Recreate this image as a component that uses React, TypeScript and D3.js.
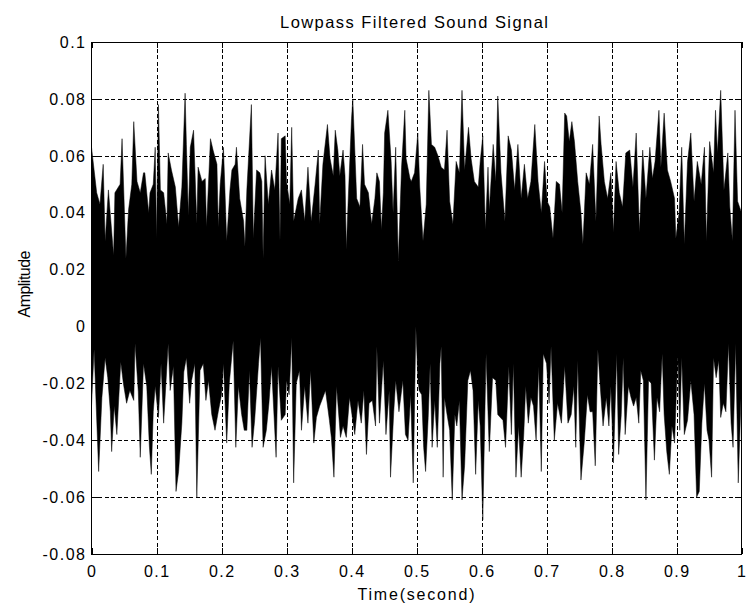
import React from 'react';
import * as d3 from 'd3';

const W = 749;
const H = 609;

const TITLE = 'Lowpass Filtered Sound Signal';
const X_LABEL = 'Time(second)';
const Y_LABEL = 'Amplitude';

const X_TICKS = [0, 0.1, 0.2, 0.3, 0.4, 0.5, 0.6, 0.7, 0.8, 0.9, 1];
const X_TICK_LABELS = ['0', '0.1', '0.2', '0.3', '0.4', '0.5', '0.6', '0.7', '0.8', '0.9', '1'];
const Y_TICKS = [-0.08, -0.06, -0.04, -0.02, 0, 0.02, 0.04, 0.06, 0.08, 0.1];
const Y_TICK_LABELS = ['-0.08', '-0.06', '-0.04', '-0.02', '0', '0.02', '0.04', '0.06', '0.08', '0.1'];

// Upper envelope of the filtered signal (time in ms, amplitude in thousandths)
const UPPER_TIME_MS = [
  0, 8, 13, 18, 21, 26, 34, 36, 44, 47, 50, 53, 57, 62, 65, 70, 75, 80, 82, 88,
  90, 95, 98, 100, 103, 106, 111, 116, 118, 123, 129, 134, 139, 144, 146, 149, 152, 157, 162, 164,
  170, 175, 177, 183, 187, 193, 195, 198, 203, 208, 213, 216, 221, 223, 228, 234, 236, 239, 246, 249,
  254, 259, 262, 264, 267, 272, 277, 282, 287, 290, 292, 298, 300, 305, 308, 311, 318, 323, 328, 333,
  338, 344, 349, 351, 356, 363, 367, 372, 375, 379, 382, 387, 390, 392, 395, 400, 402, 408, 413, 417,
  420, 426, 431, 436, 439, 443, 446, 449, 451, 456, 461, 464, 468, 472, 477, 482, 484, 490, 492, 497, 502,
  505, 510, 515, 519, 523, 528, 533, 538, 543, 547, 551, 556, 561, 566, 570, 574, 580, 584, 589, 595,
  598, 602, 606, 610, 612, 618, 622, 625, 630, 636, 641, 646, 651, 656, 661, 666, 671, 676, 682, 687,
  692, 697, 701, 705, 710, 715, 720, 724, 728, 731, 735, 739, 743, 748, 753, 756, 761, 766, 771, 776,
  781, 784, 789, 794, 799, 803, 807, 812, 817, 822, 828, 833, 838, 843, 848, 853, 859, 863, 867, 873,
  876, 881, 886, 891, 897, 899, 904, 908, 912, 917, 922, 927, 932, 938, 943, 946, 951, 957, 960, 963,
  968, 973, 979, 982, 986, 990, 994, 1000,
];
const UPPER_MILLI = [
  63, 47, 43, 57, 30, 48, 25, 47, 50, 66, 45, 24, 41, 50, 72, 51, 47, 54, 54, 40,
  47, 50, 63, 31, 78, 48, 47, 36, 61, 55, 49, 35, 49, 82, 64, 39, 63, 69, 36, 56,
  51, 52, 35, 66, 62, 57, 35, 50, 63, 30, 48, 55, 57, 63, 45, 37, 28, 48, 78, 31,
  55, 54, 51, 24, 60, 43, 55, 48, 68, 30, 66, 67, 51, 43, 70, 37, 45, 48, 37, 56,
  37, 50, 62, 36, 57, 71, 59, 53, 69, 62, 53, 62, 53, 27, 45, 73, 80, 45, 42, 64,
  50, 47, 36, 45, 54, 51, 34, 47, 68, 76, 58, 40, 63, 23, 56, 76, 59, 52, 51, 54, 68,
  49, 30, 43, 83, 64, 63, 60, 56, 55, 69, 44, 36, 58, 54, 83, 55, 70, 59, 51, 49,
  58, 67, 34, 56, 41, 64, 51, 81, 54, 37, 67, 62, 48, 64, 45, 57, 45, 51, 71, 51,
  40, 58, 44, 42, 31, 51, 50, 40, 75, 74, 65, 72, 65, 51, 40, 29, 54, 50, 64, 37,
  74, 64, 51, 45, 54, 33, 58, 47, 42, 61, 62, 49, 68, 33, 62, 45, 63, 52, 58, 76,
  56, 75, 55, 51, 45, 31, 40, 63, 29, 58, 68, 44, 58, 50, 63, 30, 65, 54, 76, 61,
  83, 48, 61, 42, 30, 76, 44, 40,
];

// Lower envelope of the filtered signal (time in ms, amplitude in thousandths)
const LOWER_TIME_MS = [
  0, 4, 11, 16, 21, 25, 29, 31, 35, 39, 42, 45, 49, 54, 59, 65, 67, 72, 75, 80,
  85, 89, 92, 95, 98, 103, 107, 111, 118, 121, 126, 130, 134, 139, 142, 146, 151, 154, 159, 162,
  167, 172, 176, 180, 185, 190, 195, 200, 203, 208, 212, 218, 222, 226, 231, 235, 239, 243, 247, 251,
  257, 260, 264, 269, 273, 277, 284, 287, 292, 298, 300, 304, 308, 311, 315, 320, 323, 328, 333, 337,
  342, 346, 351, 356, 360, 366, 369, 373, 377, 383, 387, 392, 397, 405, 410, 415, 419, 423, 427, 432,
  437, 439, 443, 449, 453, 458, 460, 465, 468, 473, 479, 483, 487, 491, 495, 499, 502,
  504, 508, 511, 514, 518, 521, 524, 528, 532, 536, 538, 541, 543, 547, 551, 555, 559, 562, 566, 570,
  574, 579, 583, 587, 591, 595, 598, 602, 607, 612, 617, 622, 625, 629, 633, 637, 642, 646, 649, 653,
  657, 661, 665, 668, 672, 676, 680, 684, 688, 692, 695, 700, 704, 707, 712, 717, 723, 728, 733, 738,
  742, 745, 748, 753, 758, 763, 767, 771, 775, 779, 782, 787, 792, 796, 799, 803, 808, 811, 815, 818,
  821, 826, 830, 834, 838, 842, 845, 849, 853, 857, 861, 866, 870, 874, 878, 881, 885, 889, 893, 897,
  902, 905, 908, 912, 917, 922, 927, 931, 935, 939, 943, 947, 950, 954, 957, 961, 965, 968, 972, 976,
  980, 984, 987, 991, 995, 1000,
];
const LOWER_MILLI = [
  -28, -8, -51, -25, -11, -18, -30, -44, -28, -38, -25, -12.5, -20, -27, -22.5, -26, -6, -23, -46, -13,
  -21, -42, -52, -30, -21, -32, -13, -34, -6, -22.5, -14, -58, -51, -34, -16, -11, -27, -19, -13, -60,
  -15.5, -13, -26, -19, -31, -36.5, -30, -24, -13, -41, -20, -5, -42.5, -21, -31, -36.5, -36.5, -15.5, -42.5, -33,
  -13, -4, -42.5, -36.5, -27, -14, -46, -14, -33, -31, -19, -24, -4, -55, -20, -15.5, -36.5, -21, -34, -15.5,
  -41, -32, -28, -25, -22.5, -33, -39, -53, -21, -39, -35, -39, -25, -38, -26, -34, -22.5, -45, -27, -26,
  -35, -7, -34, -12, -38, -22.5, -53, -30, -19, -30, -19, -38, -40, -24, -55, 0, -18,
  -22.5, -24, -42.5, -51, -32, -13, -42.5, -26, -42.5, -13, -7, -53, -25, -31, -36.5, -61, -31, -35, -26, -61,
  -49, -19, -15.5, -22.5, -52, -26, -35, -68, -9.6, -44, -18, -19, -31, -32, -33, -42.5, -14, -38, -13, -53,
  -35, -53, -38, -21, -34, -25, -28, -40, -14, -51, -9.6, -13, -27, -7, -40, -27, -34, -14, -34, -31,
  -21, -42.5, -12, -54, -41, -24, -30, -30, -49, -8, -19, -35, -25, -35, -21, -48, -9.6, -45, -31, -11,
  -38, -21, -25, -28, -25, -34, -15.5, -19, -61, -19, -20, -47, -25, -30, -9.6, -31, -44, -52, -35, -41,
  -9.6, -36.5, -11, -38, -33, -19, -31, -60, -58, -34, -20, -36.5, -40, -53, -11, -18, -12, -32, -27, -30,
  -6, -34, -42.5, -6, -55, -20,
];

const FONT = '"Liberation Sans", Arial, Helvetica, sans-serif';

export default function App() {
  const left = 91.5;
  const right = 741.5;
  const top = 42;
  const bottom = 554;
  const x = d3.scaleLinear().domain([0, 1]).range([left, right]);
  const y = d3.scaleLinear().domain([-0.08, 0.1]).range([bottom, top]);

  const upper: [number, number][] = UPPER_TIME_MS.map((t, i) => [x(t / 1000), y(UPPER_MILLI[i] / 1000)]);
  const lower: [number, number][] = LOWER_TIME_MS.map((t, i) => [x(t / 1000), y(LOWER_MILLI[i] / 1000)]);
  const poly = upper.concat(lower.slice().reverse());
  const signalPath = (d3.line()(poly) || '') + 'Z';

  const tickLen = 6;
  const grid = '4,2.5';

  return (
    <svg width={W} height={H} style={{ position: 'absolute', left: 0, top: 0, background: '#fff' }} fontFamily={FONT}>
      <rect x={0} y={0} width={W} height={H} fill="#fff" />
      {/* grid */}
      <g stroke="#000" strokeWidth={1} strokeDasharray={grid} shapeRendering="crispEdges">
        {X_TICKS.slice(1, -1).map((t) => (
          <line key={'gx' + t} x1={Math.round(x(t)) + 0.5} x2={Math.round(x(t)) + 0.5} y1={top} y2={bottom} />
        ))}
        {Y_TICKS.slice(1).map((v) => (
          <line key={'gy' + v} x1={left} x2={right} y1={Math.round(y(v)) + 0.5} y2={Math.round(y(v)) + 0.5} />
        ))}
      </g>
      {/* signal */}
      <path d={signalPath} fill="#000" stroke="#000" strokeWidth={0.5} strokeLinejoin="miter" strokeMiterlimit={3} />
      {/* box */}
      <rect x={left} y={top + 0.5} width={right - left} height={bottom - top} fill="none" stroke="#000" strokeWidth={1} shapeRendering="crispEdges" />
      {/* ticks */}
      <g stroke="#000" strokeWidth={1} shapeRendering="crispEdges">
        {X_TICKS.map((t) => {
          const xx = Math.round(x(t)) + 0.5;
          return (
            <g key={'tx' + t}>
              <line x1={xx} x2={xx} y1={bottom} y2={bottom - tickLen} />
              <line x1={xx} x2={xx} y1={top} y2={top + tickLen} />
            </g>
          );
        })}
        {Y_TICKS.map((v) => {
          const yy = Math.round(y(v)) + 0.5;
          return (
            <g key={'ty' + v}>
              <line x1={left} x2={left + tickLen} y1={yy} y2={yy} />
              <line x1={right} x2={right - tickLen} y1={yy} y2={yy} />
            </g>
          );
        })}
      </g>
      {/* tick labels */}
      <g fontSize={16} fill="#000" letterSpacing={1.5}>
        {X_TICKS.map((t, i) => (
          <text key={'lx' + t} x={x(t) + 0.75} y={577} textAnchor="middle">
            {X_TICK_LABELS[i]}
          </text>
        ))}
        {Y_TICKS.map((v, i) => (
          <text key={'ly' + v} x={86.5} y={y(v) + 5.8} textAnchor="end">
            {Y_TICK_LABELS[i]}
          </text>
        ))}
      </g>
      {/* title and axis labels */}
      <text x={414} y={28} textAnchor="middle" fontSize={16.5} textLength={268} lengthAdjust="spacing">
        {TITLE}
      </text>
      <text x={416} y={600} textAnchor="middle" fontSize={16} textLength={117} lengthAdjust="spacing">
        {X_LABEL}
      </text>
      <text transform="translate(29.5,284) rotate(-90)" textAnchor="middle" fontSize={16} textLength={67} lengthAdjust="spacing">
        {Y_LABEL}
      </text>
    </svg>
  );
}
